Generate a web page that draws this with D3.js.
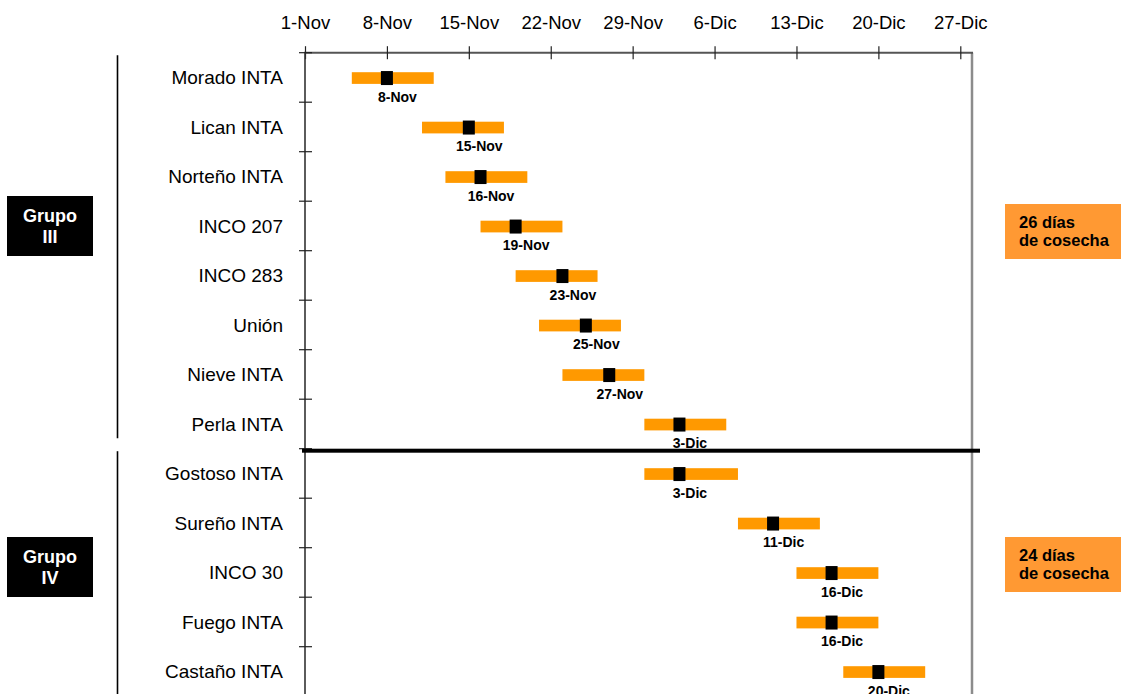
<!DOCTYPE html>
<html>
<head>
<meta charset="utf-8">
<script src="https://cdn.jsdelivr.net/npm/d3@7"></script>
<style>
  html, body { margin: 0; padding: 0; background: #fff; }
  svg { display: block; }
</style>
</head>
<body>
<svg id="chart" width="1121" height="694"></svg>
<script>
// Cultivares ordenados por fecha media de cosecha
const categories = ["Morado INTA", "Lican INTA", "Norteño INTA", "INCO 207", "INCO 283", "Unión",
  "Nieve INTA", "Perla INTA", "Gostoso INTA", "Sureño INTA", "INCO 30", "Fuego INTA", "Castaño INTA"];

// Ventana de cosecha (inicio, fin) y fecha media
const harvestStart = ["2023-11-05", "2023-11-11", "2023-11-13", "2023-11-16", "2023-11-19", "2023-11-21",
  "2023-11-23", "2023-11-30", "2023-11-30", "2023-12-08", "2023-12-13", "2023-12-13", "2023-12-17"];
const harvestEnd = ["2023-11-12", "2023-11-18", "2023-11-20", "2023-11-23", "2023-11-26", "2023-11-28",
  "2023-11-30", "2023-12-07", "2023-12-08", "2023-12-15", "2023-12-20", "2023-12-20", "2023-12-24"];
const harvestMid = ["2023-11-08", "2023-11-15", "2023-11-16", "2023-11-19", "2023-11-23", "2023-11-25",
  "2023-11-27", "2023-12-03", "2023-12-03", "2023-12-11", "2023-12-16", "2023-12-16", "2023-12-20"];

// Eje temporal
const axisDomain = ["2023-11-01", "2023-12-28"];
const tickDates = ["2023-11-01", "2023-11-08", "2023-11-15", "2023-11-22", "2023-11-29",
  "2023-12-06", "2023-12-13", "2023-12-20", "2023-12-27"];
const tickLabels = ["1-Nov", "8-Nov", "15-Nov", "22-Nov", "29-Nov", "6-Dic", "13-Dic", "20-Dic", "27-Dic"];

// Grupos de madurez
const groupNames = [["Grupo", "III"], ["Grupo", "IV"]];
const groupFirst = ["Morado INTA", "Gostoso INTA"];
const groupLast = ["Perla INTA", "Castaño INTA"];
const groupDays = [["26 días", "de cosecha"], ["24 días", "de cosecha"]];

const parse = d3.utcParse("%Y-%m-%d");
const monthAbbr = ["Ene", "Feb", "Mar", "Abr", "May", "Jun", "Jul", "Ago", "Sep", "Oct", "Nov", "Dic"];
const fmt = d => `${d.getUTCDate()}-${monthAbbr[d.getUTCMonth()]}`;

const rows = categories.map((c, i) => ({
  name: c,
  start: parse(harvestStart[i]),
  end: parse(harvestEnd[i]),
  mid: parse(harvestMid[i])
}));

const FONT = "'Liberation Sans', Arial, Helvetica, sans-serif";
const svg = d3.select("#chart");

const plot = { left: 305, right: 972, top: 52.7, bottom: 52.7 + 13 * 49.5 };

const x = d3.scaleUtc()
  .domain(axisDomain.map(parse))
  .range([plot.left, plot.right]);

const y = d3.scaleBand()
  .domain(categories)
  .range([plot.top, plot.bottom])
  .padding(0);

// Marco derecho
svg.append("line")
  .attr("x1", plot.right).attr("x2", plot.right)
  .attr("y1", plot.top).attr("y2", 700)
  .attr("stroke", "#8c8c8c").attr("stroke-width", 2.5);

// Eje superior
const xAxis = d3.axisTop(x)
  .tickValues(tickDates.map(parse))
  .tickFormat((d, i) => tickLabels[i])
  .tickSizeInner(0)
  .tickSizeOuter(0);

const gx = svg.append("g")
  .attr("transform", `translate(0,${plot.top})`)
  .call(xAxis);
gx.select(".domain").attr("stroke", "#555").attr("stroke-width", 2)
  .attr("d", `M${plot.left},0H${plot.right + 1}`);
gx.selectAll(".tick line")
  .attr("y1", -6.5).attr("y2", 6.5)
  .attr("stroke", "#222").attr("stroke-width", 1.2);
gx.selectAll(".tick text")
  .attr("y", -23.5).attr("dy", 0)
  .attr("font-family", FONT).attr("font-size", 18.5).attr("fill", "#000");

// Eje izquierdo con marcas entre filas
svg.append("line")
  .attr("x1", plot.left).attr("x2", plot.left)
  .attr("y1", plot.top - 1).attr("y2", 700)
  .attr("stroke", "#333").attr("stroke-width", 1.6);

const boundaries = categories.map(c => y(c)).concat([y(categories[categories.length - 1]) + y.bandwidth()]);
svg.append("g").selectAll("line")
  .data(boundaries)
  .join("line")
  .attr("x1", plot.left - 6).attr("x2", plot.left + 7)
  .attr("y1", d => d).attr("y2", d => d)
  .attr("stroke", "#222").attr("stroke-width", 1.2);

// Etiquetas de cultivares
svg.append("g").selectAll("text")
  .data(categories)
  .join("text")
  .attr("x", 283)
  .attr("y", d => y(d) + y.bandwidth() / 2 + 7)
  .attr("text-anchor", "end")
  .attr("font-family", FONT).attr("font-size", 19).attr("fill", "#000")
  .text(d => d);

// Ventanas de cosecha
const bh = 11.7;
svg.append("g").selectAll("rect")
  .data(rows)
  .join("rect")
  .attr("x", d => x(d.start))
  .attr("width", d => x(d.end) - x(d.start))
  .attr("y", d => y(d.name) + y.bandwidth() / 2 + 0.6 - bh / 2)
  .attr("height", bh)
  .attr("fill", "#ff9900");

// Fecha media
const mw = 12, mh = 14;
svg.append("g").selectAll("rect")
  .data(rows)
  .join("rect")
  .attr("x", d => x(d.mid) - mw / 2)
  .attr("width", mw)
  .attr("y", d => y(d.name) + y.bandwidth() / 2 + 0.6 - mh / 2)
  .attr("height", mh)
  .attr("fill", "#000");

svg.append("g").selectAll("text")
  .data(rows)
  .join("text")
  .attr("x", d => x(d.mid) + 10.5)
  .attr("y", d => y(d.name) + y.bandwidth() / 2 + 24.3)
  .attr("text-anchor", "middle")
  .attr("font-family", FONT).attr("font-size", 14).attr("font-weight", "bold").attr("fill", "#000")
  .text(d => fmt(d.mid));

// Separación entre grupos
const sepY = y(groupFirst[1]);
svg.append("rect")
  .attr("x", plot.left - 3).attr("width", 980 - (plot.left - 3))
  .attr("y", sepY).attr("height", 4)
  .attr("fill", "#000");

// Líneas verticales de cada grupo
const groupTop = [y(groupFirst[0]) + 2.5, y(groupFirst[1]) + 2.5];
const groupBottom = [y(groupLast[0]) + y.bandwidth() - 10.5, 700];
svg.append("g").selectAll("line")
  .data(groupNames)
  .join("line")
  .attr("x1", 117.5).attr("x2", 117.5)
  .attr("y1", (d, i) => groupTop[i])
  .attr("y2", (d, i) => groupBottom[i])
  .attr("stroke", "#000").attr("stroke-width", 1.6);

// Cajas de grupo
const groupBoxCenter = [226, 567];
const g1 = svg.append("g").selectAll("g")
  .data(groupNames)
  .join("g");
g1.append("rect")
  .attr("x", 7).attr("width", 86)
  .attr("y", (d, i) => groupBoxCenter[i] - 30).attr("height", 60)
  .attr("fill", "#000");
g1.each(function (d, i) {
  const t = d3.select(this).append("text")
    .attr("text-anchor", "middle")
    .attr("font-family", FONT).attr("font-size", 18).attr("font-weight", "bold").attr("fill", "#fff");
  t.append("tspan").attr("x", 50).attr("y", groupBoxCenter[i] - 4).text(d[0]);
  t.append("tspan").attr("x", 50).attr("y", groupBoxCenter[i] + 16.5).text(d[1]);
});

// Cajas de días de cosecha
const daysBoxCenter = [231.5, 564.5];
const g2 = svg.append("g").selectAll("g")
  .data(groupDays)
  .join("g");
g2.append("rect")
  .attr("x", 1005).attr("width", 116)
  .attr("y", (d, i) => daysBoxCenter[i] - 27.5).attr("height", 55)
  .attr("fill", "#ff9933");
g2.each(function (d, i) {
  const t = d3.select(this).append("text")
    .attr("font-family", FONT).attr("font-size", 16.5).attr("font-weight", "bold").attr("fill", "#000");
  t.append("tspan").attr("x", 1019).attr("y", daysBoxCenter[i] - 4).text(d[0]);
  t.append("tspan").attr("x", 1019).attr("y", daysBoxCenter[i] + 14.5).text(d[1]);
});
</script>
</body>
</html>
